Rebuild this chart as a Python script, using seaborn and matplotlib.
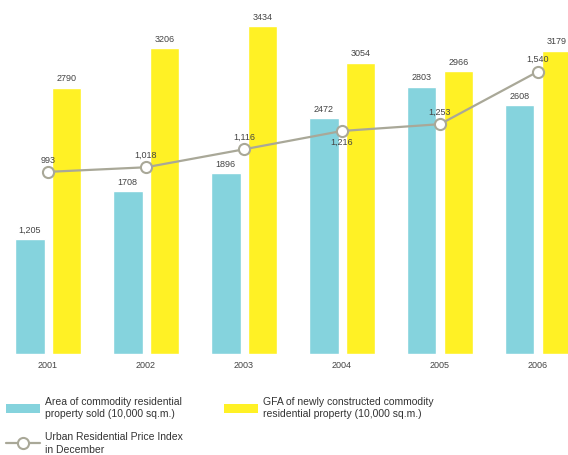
import matplotlib
matplotlib.use("Agg")
import matplotlib.pyplot as plt
import seaborn as sns
import numpy as np
import pandas as pd
from matplotlib.patches import Patch
from matplotlib.lines import Line2D

years = ["2001", "2002", "2003", "2004", "2005", "2006"]
area_sold = [1205, 1708, 1896, 2472, 2803, 2608]
gfa_new = [2790, 3206, 3434, 3054, 2966, 3179]
price_index = [993, 1018, 1116, 1216, 1253, 1540]

area_labels = ["1,205", "1708", "1896", "2472", "2803", "2608"]
gfa_labels = ["2790", "3206", "3434", "3054", "2966", "3179"]
price_labels = ["993", "1,018", "1,116", "1,216", "1,253", "1,540"]

series_area = "Area of commodity residential\nproperty sold (10,000 sq.m.)"
series_gfa = "GFA of newly constructed commodity\nresidential property (10,000 sq.m.)"
series_price = "Urban Residential Price Index\nin December"

CYAN = "#85d3dd"
YELLOW = "#fff125"
GREY = "#a9a898"
TEXT = "#444444"

sns.set_theme(style="white")
plt.rcParams["font.family"] = ["Liberation Sans", "DejaVu Sans"]

df = pd.DataFrame({
    "year": years * 2,
    "value": area_sold + gfa_new,
    "series": [series_area] * 6 + [series_gfa] * 6,
})

fig = plt.figure(figsize=(5.68, 4.55), dpi=100)
ax = fig.add_axes([0.0, 0.222, 1.0, 0.778])

sns.barplot(data=df, x="year", y="value", hue="series",
            palette=[CYAN, YELLOW], width=0.755, gap=0.19,
            saturation=1, legend=False, ax=ax)
ax.set_ylim(0, 3711)
ax.set_xlim(-0.49, 5.306)

# value labels above bars
for container, labels in zip(ax.containers, [area_labels, gfa_labels]):
    for bar, lab in zip(container, labels):
        ax.annotate(lab, (bar.get_x() + bar.get_width() / 2, bar.get_height()),
                    xytext=(0, 6.5), textcoords="offset points",
                    ha="center", va="center", fontsize=6.5, color=TEXT)

ax.set_xlabel("")
ax.set_ylabel("")
ax.set_yticks([])
ax.tick_params(axis="x", length=0, pad=5, labelsize=6.5, labelcolor=TEXT)
for s in ax.spines.values():
    s.set_visible(False)

# price index on its own scale
ax2 = ax.twinx()
xpos = np.arange(len(years))
sns.lineplot(x=xpos, y=price_index, ax=ax2, color=GREY, linewidth=1.6,
             marker="o", markersize=8, markerfacecolor="white",
             markeredgecolor=GREY, markeredgewidth=1.5)
ax2.set_ylim(0, 1930)
ax2.set_yticks([])
ax2.set_ylabel("")
for s in ax2.spines.values():
    s.set_visible(False)

for i, (v, lab) in enumerate(zip(price_index, price_labels)):
    dy = -8.5 if lab == "1,216" else 8.5
    ax2.annotate(lab, (xpos[i], v), xytext=(0, dy), textcoords="offset points",
                 ha="center", va="center", fontsize=6.5, color=TEXT)

handles = [
    Patch(facecolor=CYAN, edgecolor="none"),
    Line2D([], [], color=GREY, linewidth=1.6, marker="o", markersize=8,
           markerfacecolor="white", markeredgecolor=GREY, markeredgewidth=1.5),
    Patch(facecolor=YELLOW, edgecolor="none"),
]
labels = [series_area, series_price, series_gfa]
leg = fig.legend(handles, labels, loc="upper left", bbox_to_anchor=(0.01, 0.128),
                 ncol=2, frameon=False, fontsize=7.5, labelcolor="#333333",
                 handlelength=3.27, handleheight=0.95, handletextpad=0.48,
                 columnspacing=4.0, labelspacing=1.25, borderpad=0,
                 borderaxespad=0)
for t in leg.get_texts():
    t.set_linespacing(1.3)

fig.savefig("out.png", dpi=100)
